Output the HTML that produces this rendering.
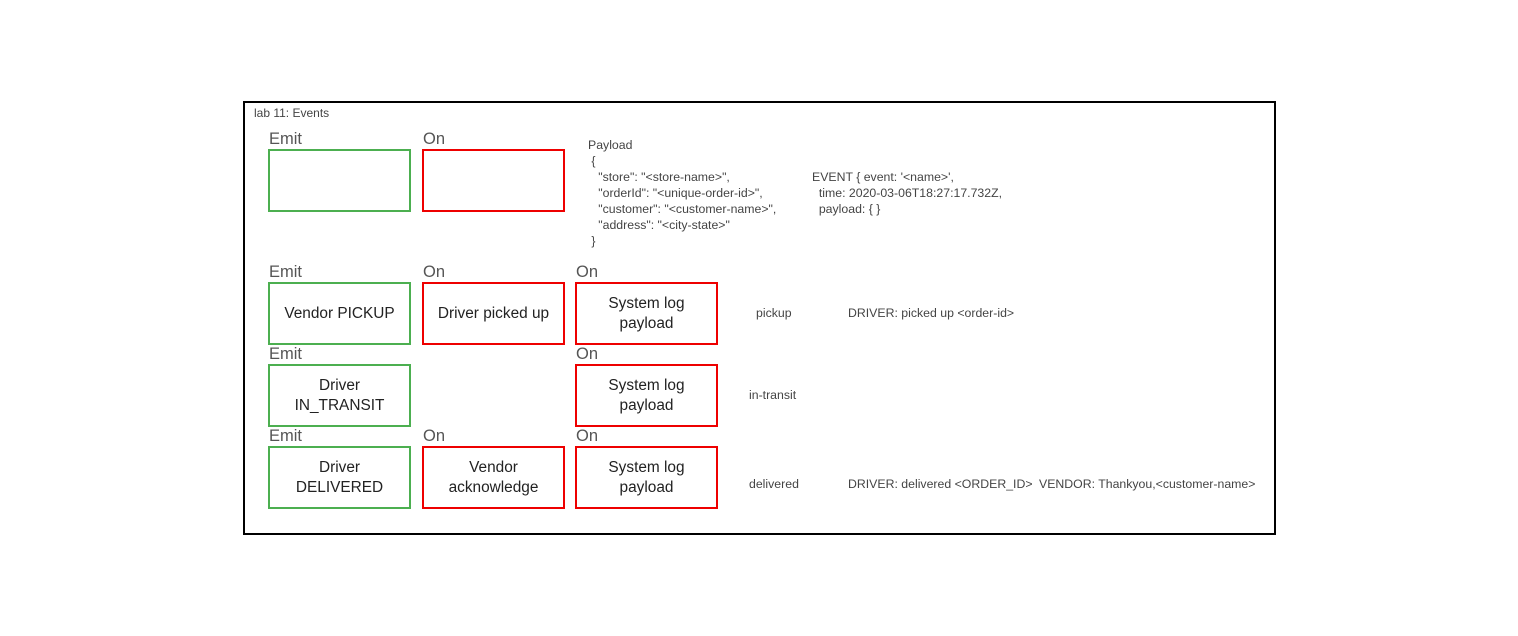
<!DOCTYPE html>
<html><head><style>
body{margin:0;width:1518px;height:636px;background:#fff;position:relative;font-family:"Liberation Sans",sans-serif;overflow:hidden}
.frame{position:absolute;left:243px;top:101px;width:1029px;height:430px;border:2px solid #000}
.b{position:absolute;width:139px;height:59px;border:2px solid;display:flex;align-items:center;justify-content:center;text-align:center;font-size:15.4px;color:#222;line-height:20px;box-sizing:content-box}
.g{border-color:#4caf50}.r{border-color:#e00}
.h{position:absolute;font-size:16.5px;color:#555}
.s{position:absolute;font-size:12.3px;color:#444;white-space:pre}
</style></head><body>
<div class="frame"></div>
<div class="s" style="left:254px;top:106px;font-size:12px">lab 11: Events</div>

<div class="h" style="left:269px;top:130px">Emit</div>
<div class="h" style="left:423px;top:130px">On</div>
<div class="b g" style="left:268px;top:149px"></div>
<div class="b r" style="left:422px;top:149px"></div>

<div class="s" style="left:588px;top:137px;line-height:16px">Payload
 {
   "store": "&lt;store-name&gt;",
   "orderId": "&lt;unique-order-id&gt;",
   "customer": "&lt;customer-name&gt;",
   "address": "&lt;city-state&gt;"
 }</div>
<div class="s" style="left:812px;top:169px;line-height:16px">EVENT { event: '&lt;name&gt;',
  time: 2020-03-06T18:27:17.732Z,
  payload: { }</div>

<div class="h" style="left:269px;top:263px">Emit</div>
<div class="h" style="left:423px;top:263px">On</div>
<div class="h" style="left:576px;top:263px">On</div>
<div class="b g" style="left:268px;top:282px">Vendor PICKUP</div>
<div class="b r" style="left:422px;top:282px">Driver picked up</div>
<div class="b r" style="left:575px;top:282px">System log<br>payload</div>
<div class="s" style="left:756px;top:306px">pickup</div>
<div class="s" style="left:848px;top:306px">DRIVER: picked up &lt;order-id&gt;</div>

<div class="h" style="left:269px;top:345px">Emit</div>
<div class="h" style="left:576px;top:345px">On</div>
<div class="b g" style="left:268px;top:364px">Driver<br>IN_TRANSIT</div>
<div class="b r" style="left:575px;top:364px">System log<br>payload</div>
<div class="s" style="left:749px;top:388px">in-transit</div>

<div class="h" style="left:269px;top:427px">Emit</div>
<div class="h" style="left:423px;top:427px">On</div>
<div class="h" style="left:576px;top:427px">On</div>
<div class="b g" style="left:268px;top:446px">Driver<br>DELIVERED</div>
<div class="b r" style="left:422px;top:446px">Vendor<br>acknowledge</div>
<div class="b r" style="left:575px;top:446px">System log<br>payload</div>
<div class="s" style="left:749px;top:477px">delivered</div>
<div class="s" style="left:848px;top:477px">DRIVER: delivered &lt;ORDER_ID&gt;</div>
<div class="s" style="left:1039px;top:477px">VENDOR: Thankyou,&lt;customer-name&gt;</div>
</body></html>
